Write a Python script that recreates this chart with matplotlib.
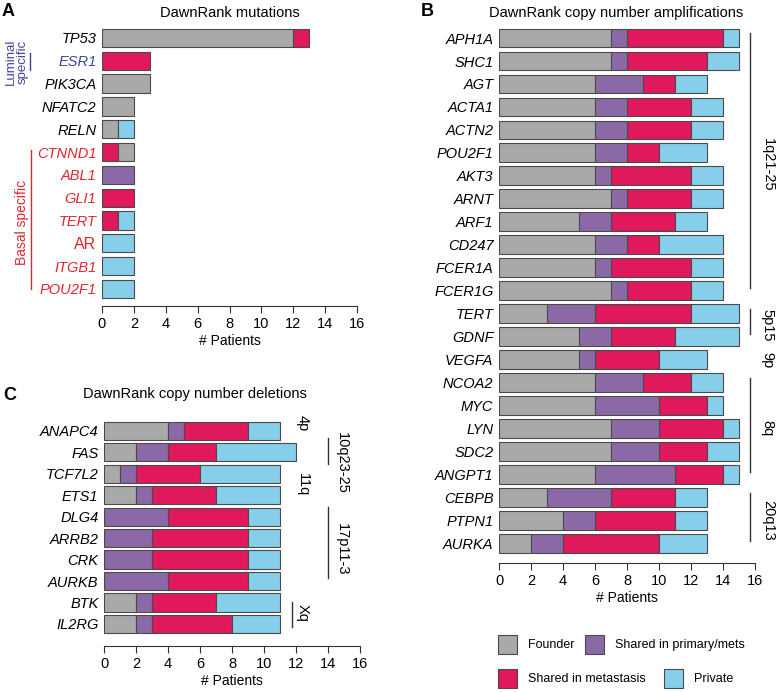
import matplotlib
matplotlib.use("Agg")
import matplotlib.pyplot as plt
import matplotlib.transforms as mtransforms
from matplotlib.patches import Rectangle
from matplotlib.lines import Line2D

plt.rcParams['font.family'] = ['Liberation Sans', 'DejaVu Sans']

# --- data (A) mutations
mut_genes = ['TP53', 'ESR1', 'PIK3CA', 'NFATC2', 'RELN', 'CTNND1', 'ABL1',
             'GLI1', 'TERT', 'AR', 'ITGB1', 'POU2F1']
mut_founder = [12, 0, 3, 2, 1, 1, 0, 0, 0, 0, 0, 0]
mut_prim_met = [0, 0, 0, 0, 0, 0, 2, 0, 0, 0, 0, 0]
mut_met = [1, 3, 0, 0, 0, 1, 0, 2, 1, 0, 0, 0]
mut_private = [0, 0, 0, 0, 1, 0, 0, 0, 1, 2, 2, 2]
mut_group = ['none', 'luminal', 'none', 'none', 'none', 'basal', 'basal',
             'basal', 'basal', 'basal', 'basal', 'basal']

# --- data (B) amplifications
amp_genes = ['APH1A', 'SHC1', 'AGT', 'ACTA1', 'ACTN2', 'POU2F1', 'AKT3', 'ARNT',
             'ARF1', 'CD247', 'FCER1A', 'FCER1G', 'TERT', 'GDNF', 'VEGFA',
             'NCOA2', 'MYC', 'LYN', 'SDC2', 'ANGPT1', 'CEBPB', 'PTPN1', 'AURKA']
amp_founder = [7, 7, 6, 6, 6, 6, 6, 7, 5, 6, 6, 7, 3, 5, 5, 6, 6, 7, 7, 6, 3, 4, 2]
amp_prim_met = [1, 1, 3, 2, 2, 2, 1, 1, 2, 2, 1, 1, 3, 2, 1, 3, 4, 3, 3, 5, 4, 2, 2]
amp_met = [6, 5, 2, 4, 4, 2, 5, 4, 4, 2, 5, 4, 6, 4, 4, 3, 3, 4, 3, 3, 4, 5, 6]
amp_private = [1, 2, 2, 2, 2, 3, 2, 2, 2, 4, 2, 2, 3, 4, 3, 2, 1, 1, 2, 1, 2, 2, 3]
amp_regions = ['1q21-25', '5p15', '9p', '8q', '20q13']
amp_region_first = [0, 12, 14, 15, 20]
amp_region_last = [11, 13, 14, 19, 22]

# --- data (C) deletions
del_genes = ['ANAPC4', 'FAS', 'TCF7L2', 'ETS1', 'DLG4', 'ARRB2', 'CRK', 'AURKB',
             'BTK', 'IL2RG']
del_founder = [4, 2, 1, 2, 0, 0, 0, 0, 2, 2]
del_prim_met = [1, 2, 1, 1, 4, 3, 3, 4, 1, 1]
del_met = [4, 3, 4, 4, 5, 6, 6, 5, 4, 5]
del_private = [2, 5, 5, 4, 2, 2, 2, 2, 4, 3]
del_regions = ['4p', '10q23-25', '11q', '17p11-3', 'Xq']
del_region_first = [0, 1, 2, 4, 8]
del_region_last = [0, 2, 3, 7, 9]

categories = ['Founder', 'Shared in primary/mets', 'Shared in metastasis', 'Private']
colors = ['#a9a9a9', '#8b69a6', '#e0185c', '#87ceeb']
edge = '#4a4a4a'
blue_txt = '#3b4698'
red_txt = '#e3242f'

W, H = 782, 692
fig = plt.figure(figsize=(W / 100, H / 100), dpi=100)


def fx(px):
    return px / W


def fy(py):
    return 1 - py / H


def stacked(ax, genes, series, height, order=None):
    # order: per-gene stacking order of the categories (index into series)
    for i, g in enumerate(genes):
        left = 0
        seq = order.get(g, [0, 1, 2, 3]) if order else [0, 1, 2, 3]
        for k in seq:
            v = series[k][i]
            if v > 0:
                ax.barh(i, v, left=left, height=height, color=colors[k],
                        edgecolor=edge, linewidth=0.8)
                left += v
    ax.set_xlim(0, 16)
    ax.set_xticks(range(0, 17, 2))
    ax.set_yticks(range(len(genes)))
    ax.set_yticklabels(genes, fontsize=10.5, style='italic')
    for s in ['top', 'right', 'left']:
        ax.spines[s].set_visible(False)
    ax.spines['bottom'].set_linewidth(0.8)
    ax.spines['bottom'].set_color('#333333')
    ax.tick_params(axis='y', length=0, pad=4)
    ax.tick_params(axis='x', length=5, width=0.8, labelsize=10.5, pad=3,
                   color='#333333')
    ax.set_xlabel('# Patients', fontsize=10, labelpad=2)


# ---- A
axA = fig.add_axes([fx(102), fy(306), fx(255), 279 / H])
stacked(axA, mut_genes, [mut_founder, mut_prim_met, mut_met, mut_private], 0.8,
        order={'CTNND1': [2, 0, 1, 3]})
axA.set_ylim(11.75, -0.48)
for lab, grp in zip(axA.get_yticklabels(), mut_group):
    if grp == 'luminal':
        lab.set_color(blue_txt)
    elif grp == 'basal':
        lab.set_color(red_txt)
    if lab.get_text() == 'AR':
        lab.set_style('normal')
        lab.set_fontsize(11.5)

# group brackets on the left of panel A (x in figure, y in data)
trA = mtransforms.blended_transform_factory(fig.transFigure, axA.transData)
lum = [i for i, g in enumerate(mut_group) if g == 'luminal']
bas = [i for i, g in enumerate(mut_group) if g == 'basal']
axA.add_line(Line2D([fx(30), fx(30)], [lum[0] - 0.35, lum[-1] + 0.4], transform=trA,
                    color=blue_txt, lw=1, clip_on=False))
fig.text(fx(17), fy(62), 'Luminal\nspecific', rotation=90, ha='center', va='center',
         color=blue_txt, fontsize=9.5, linespacing=0.95)
axA.add_line(Line2D([fx(31), fx(31)], [bas[0] - 0.1, bas[-1]], transform=trA,
                    color=red_txt, lw=1, clip_on=False))
fig.text(fx(22), fy(222), 'Basal specific', rotation=90, ha='center', va='center',
         color=red_txt, fontsize=10)

# ---- B
axB = fig.add_axes([fx(499), fy(563), fx(256), 536 / H])
stacked(axB, amp_genes, [amp_founder, amp_prim_met, amp_met, amp_private], 0.82)
axB.set_ylim(22.85, -0.48)
for name, a, b in zip(amp_regions, amp_region_first, amp_region_last):
    if b > a:
        axB.plot([15.7, 15.7], [a - 0.2, b - 0.1], color='#333333', lw=1, clip_on=False)
    axB.text(16.8, (a + b) / 2, name, rotation=270, ha='center', va='center',
             fontsize=10.5, clip_on=False)

# ---- C
axC = fig.add_axes([fx(104), fy(646), fx(256), 226 / H])
stacked(axC, del_genes, [del_founder, del_prim_met, del_met, del_private], 0.85)
axC.set_ylim(10.03, -0.51)
# bracket line (x, top, bottom) per region, None = label only
del_lines = [None, (14.0, 0.35, 1.55), None, (14.0, 3.55, 6.85), (11.75, 8.0, 9.15)]
del_text_x = [12.4, 14.85, 12.4, 14.85, 12.4]
for name, a, b, ln, tx in zip(del_regions, del_region_first, del_region_last,
                              del_lines, del_text_x):
    if ln is not None:
        axC.plot([ln[0], ln[0]], [ln[1], ln[2]], color='#333333', lw=1, clip_on=False)
    ty = (a + b) / 2 if b > a else a - 0.35
    axC.text(tx, ty, name, rotation=270, ha='center', va='center',
             fontsize=10.5, clip_on=False)

# ---- titles and panel letters
fig.text(fx(230), fy(13), 'DawnRank mutations', ha='center', va='center', fontsize=10.5)
fig.text(fx(616), fy(13), 'DawnRank copy number amplifications', ha='center',
         va='center', fontsize=10.5)
fig.text(fx(195), fy(394), 'DawnRank copy number deletions', ha='center',
         va='center', fontsize=10.5)
fig.text(fx(2), fy(12), 'A', fontsize=13, fontweight='bold', va='center')
fig.text(fx(421), fy(12), 'B', fontsize=13, fontweight='bold', va='center')
fig.text(fx(3), fy(395), 'C', fontsize=13, fontweight='bold', va='center')

# ---- legend, placed by hand
leg_x = [498, 585, 498, 664]
leg_y = [635, 635, 669, 669]
for k in range(4):
    x0, y0 = leg_x[k], leg_y[k]
    fig.add_artist(Rectangle((fx(x0), fy(y0 + 19)), 19 / W, 19 / H,
                             transform=fig.transFigure, facecolor=colors[k],
                             edgecolor=edge, linewidth=0.8))
    fig.text(fx(x0 + 30), fy(y0 + 10), categories[k], ha='left', va='center',
             fontsize=9)

fig.savefig('out.png', dpi=100)
